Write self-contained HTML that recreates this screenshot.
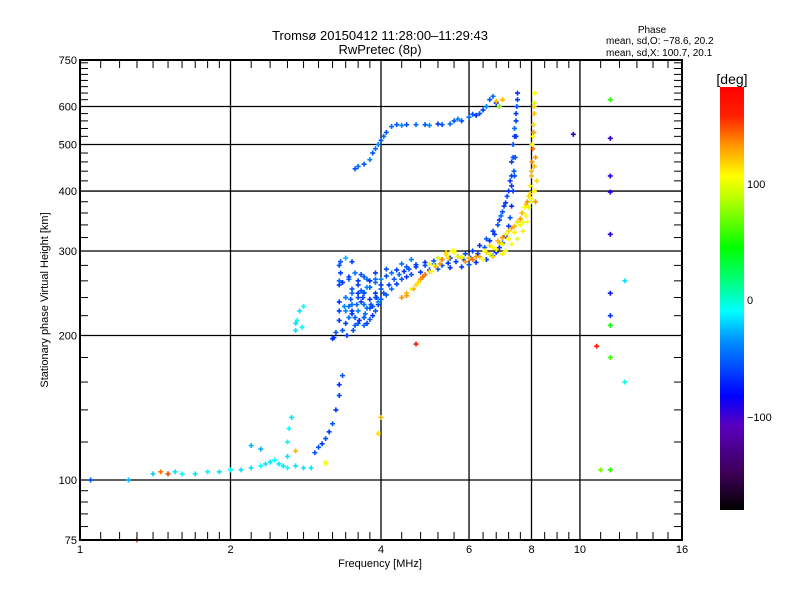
<!DOCTYPE html>
<html><head><meta charset="utf-8"><style>
body{margin:0;background:#fff;}
svg{display:block;font-family:"Liberation Sans",sans-serif;}
</style></head><body>
<svg id="chart" width="800" height="600">
<rect width="800" height="600" fill="#fff"/>
<g id="grid"></g>
<g id="marks"></g>
<rect x="80" y="60" width="602" height="480" fill="none" stroke="#000" stroke-width="2"/>
<g id="axes"></g>
<text x="380" y="40" text-anchor="middle" font-size="13">Tromsø 20150412 11:28:00–11:29:43</text>
<text x="380" y="54" text-anchor="middle" font-size="13">RwPretec (8p)</text>
<text x="652" y="33" text-anchor="middle" font-size="10">Phase</text>
<text x="606" y="44" font-size="10">mean, sd,O: −78.6, 20.2</text>
<text x="606" y="56" font-size="10">mean, sd,X: 100.7, 20.1</text>
<text x="380" y="567" text-anchor="middle" font-size="11">Frequency [MHz]</text>
<text transform="translate(48,300) rotate(-90)" text-anchor="middle" font-size="11">Stationary phase Virtual Height [km]</text>
<defs><linearGradient id="cb" x1="0" y1="1" x2="0" y2="0">
<stop offset="0" stop-color="#000"/><stop offset="0.08" stop-color="#3a0050"/><stop offset="0.2" stop-color="#5a00c0"/><stop offset="0.27" stop-color="#0000ff"/><stop offset="0.4" stop-color="#0090ff"/><stop offset="0.47" stop-color="#00ffff"/><stop offset="0.53" stop-color="#00ff90"/><stop offset="0.62" stop-color="#00ff00"/><stop offset="0.73" stop-color="#b0ff00"/><stop offset="0.79" stop-color="#ffff00"/><stop offset="0.86" stop-color="#ff9900"/><stop offset="0.93" stop-color="#ff2200"/><stop offset="1" stop-color="#ff0000"/></linearGradient></defs>
<rect x="720" y="87" width="24" height="423" fill="url(#cb)"/>
<text x="732" y="84" text-anchor="middle" font-size="14">[deg]</text>
<text x="747" y="188" font-size="11">100</text>
<text x="747" y="304" font-size="11">0</text>
<text x="747" y="421" font-size="11">−100</text>
</svg>
<script>
const oFreq=[1.4,1.5,1.55,1.6,1.7,1.8,1.9,2.0,2.1,2.2,2.3,2.35,2.4,2.45,2.5,2.55,2.6,2.7,2.8,2.9,2.6,2.6,2.62,2.65,2.2,2.3,
2.95,3.0,3.05,3.1,3.15,3.2,3.25,3.3,3.3,3.35,2.7,2.72,2.75,2.8,2.7,2.78,
3.2,3.22,3.25,3.3,3.3,3.3,3.3,3.32,3.35,3.4,3.45,3.5,3.55,3.6,3.7,3.75,3.8,3.85,3.9,3.95,4.0,4.1,4.2,4.3,4.4,4.5,4.6,4.8,5.0,5.2,5.5,5.8,6.0,6.2,6.5,6.7,6.8,6.9,7.0,7.1,7.2,7.25,7.3,7.35,7.4,7.42,7.45,7.45,7.48,7.5,7.5,
3.4,3.5,3.6,3.7,3.8,3.9,4.0,4.1,4.2,4.3,4.5,4.7,4.9,5.1,5.3,5.5,5.7,5.9,6.1,6.3,6.5,6.7,6.9,7.0,7.1,7.2,7.3,7.35,7.4,
3.3,3.4,3.5,3.6,3.7,3.8,3.9,4.0,3.45,3.55,3.65,3.75,3.6,3.7,3.5,3.4,
3.55,3.6,3.7,3.8,3.85,3.9,3.95,4.0,4.05,4.1,4.2,4.3,4.4,4.5,4.7,4.9,5.0,5.2,5.3,5.5,5.6,5.7,5.8,6.0,6.1,6.2,6.3,6.4,6.5,6.6,6.7,6.8,
11.5,11.5,11.5,11.5,11.5,11.5,12.3,12.3,9.7,1.05,1.25];
const oHeight=[103,103,104,103,103,104,104,105,105,106,107,108,109,110,108,107,106,107,106,106,112,120,128,135,118,116,
114,117,119,122,126,131,140,150,158,165,205,215,225,230,212,208,
197,198,203,215,235,255,280,270,258,240,230,222,218,212,210,212,216,220,225,232,238,243,250,256,262,265,268,271,274,275,277,278,281,284,288,293,298,305,312,322,338,352,372,400,430,470,520,560,600,620,640,
225,232,240,246,252,258,262,266,270,274,278,281,284,286,288,290,292,296,300,308,318,330,348,362,378,400,430,470,520,
225,240,250,245,232,228,240,255,262,270,248,252,260,265,285,290,
445,450,455,465,480,490,500,510,520,530,545,550,548,550,550,550,548,552,550,552,560,565,560,570,578,575,580,590,600,620,630,610,
515,430,398,325,245,220,260,160,525,100,100];
const oPhase=[-55,-50,-50,-45,-50,-45,-50,-45,-50,-50,-45,-50,-50,-45,-50,-50,-45,-50,-50,-50,-50,-45,-45,-50,-60,-60,
-80,-80,-85,-80,-85,-80,-90,-85,-90,-80,-50,-45,-50,-45,-50,-45,
-90,-90,-80,-85,-90,-85,-80,-85,-90,-80,-75,-85,-80,-80,-75,-85,-80,-90,-80,-85,-80,-80,-75,-85,-80,-90,-80,-85,-85,-80,-90,-85,-80,-95,-85,-80,-90,-85,-80,-90,-85,-80,-90,-85,-80,-85,-90,-85,-80,-85,-90,
-70,-75,-80,-70,-80,-75,-70,-80,-75,-85,-80,-85,-90,-80,-85,-95,-85,-80,-85,-90,-80,-85,-90,-80,-85,-90,-85,-80,-85,
-85,-70,-80,-90,-75,-80,-70,-85,-80,-75,-80,-70,-85,-80,-85,-60,
-80,-75,-80,-70,-80,-75,-70,-80,-75,-80,-75,-80,-70,-80,-75,-80,-70,-85,-80,-75,-80,-70,-80,-75,-80,-90,-80,-85,-70,-80,-75,-95,
-130,-120,-120,-125,-100,-90,-50,-40,-130,-80,-60];
const oFreqB=[3.35,3.4,3.45,3.5,3.55,3.6,3.65,3.7,3.75,3.8,3.85,3.9,3.95,4.0,3.5,3.6,3.7,3.8,3.9,4.05,4.15,4.25,4.35,4.45,4.55,4.7,4.9,5.1,5.3,5.45,5.65,5.85,6.05,6.25,6.45,6.6,6.75,6.85,6.95,7.05,7.15,7.25,7.3,7.35,7.4,7.45,7.38,7.3,
3.3,3.32,3.45,3.55,3.65,3.75,3.9,4.1,4.4,4.6,3.42,3.52,3.62,3.72,3.82,3.92,3.38,3.48,3.58,3.68];
const oHeightB=[205,212,218,225,210,225,235,218,228,238,230,245,235,250,245,255,245,260,262,245,255,262,268,272,275,278,280,282,280,283,285,288,290,296,305,315,325,340,355,372,390,420,460,500,540,580,440,410,
260,285,265,270,268,262,270,275,282,288,200,205,215,222,232,240,230,238,232,240];
const oPhaseB=[-80,-85,-75,-90,-80,-70,-85,-80,-75,-90,-80,-85,-70,-80,-75,-85,-80,-90,-75,-80,-85,-80,-75,-90,-80,-85,-80,-75,-80,-90,-85,-80,-75,-85,-80,-90,-85,-80,-75,-85,-80,-90,-85,-80,-75,-85,-80,-90,
-75,-80,-85,-70,-80,-75,-85,-80,-75,-70,-85,-80,-90,-75,-80,-85,-70,-80,-75,-85];
const xFreq=[1.45,1.5,2.7,3.1,3.95,4.0,4.4,4.5,4.6,4.7,4.8,4.9,5.0,5.1,5.3,5.4,5.6,5.8,5.9,6.1,6.3,6.5,6.7,6.9,7.0,7.2,7.4,7.6,7.7,7.8,7.9,7.95,8.0,8.02,8.05,8.05,8.08,8.1,8.1,8.12,8.15,8.1,
5.0,5.2,5.4,5.6,5.8,6.4,6.6,6.8,7.0,7.2,7.4,7.6,7.8,7.9,8.0,8.1,8.2,8.0,7.5,7.7,
6.9,7.0,11.5,11.5,11.5,11.5,10.8,11.0,6.8,3.1,1.3,4.7,
4.5,4.65,4.75,4.85,5.05,5.15,5.25,5.45,5.55,5.7,6.0,6.2,6.45,6.6,6.85,7.1,7.3,7.5,7.65,7.75,7.85,7.95,8.0,8.02,8.08,8.1,7.1,7.3,7.5,7.7,7.85,8.1,8.15,6.7,7.0];
const xHeight=[104,103,115,108,125,135,240,245,250,255,262,268,272,280,288,295,298,290,285,288,292,298,305,312,320,330,338,350,360,375,390,410,430,460,490,520,550,580,610,640,470,400,
282,290,298,300,292,288,295,302,310,318,328,340,355,370,385,400,420,380,345,345,
600,620,620,210,180,105,190,105,615,109,75,192,
242,250,258,265,272,278,282,290,300,292,290,292,300,308,315,325,335,345,360,370,380,395,440,500,530,600,300,310,318,330,345,450,380,292,296];
const xPhase=[140,150,120,100,110,120,130,120,100,110,130,140,120,100,130,110,100,120,130,140,120,110,100,120,130,110,120,130,100,120,110,100,120,130,140,100,110,120,90,100,130,120,
100,90,110,100,95,100,90,100,95,100,105,95,100,90,95,100,110,90,100,95,
60,120,40,30,45,40,170,60,120,100,150,170,
130,120,110,140,100,120,130,110,100,95,120,130,100,110,120,100,130,110,120,100,130,110,120,100,130,110,95,100,90,105,100,120,130,110,100];
const X0=80,Y0=540,OCT=150.5,DEC=480;
function xs(f){return X0+Math.log2(f)*OCT;}
function ys(h){return Y0-Math.log10(h/75)*DEC;}
const stops=[[-180,[0,0,0]],[-150,[80,0,130]],[-115,[20,0,255]],[-85,[0,60,255]],[-45,[0,255,255]],[0,[0,255,140]],[30,[0,255,0]],[80,[190,255,0]],[100,[255,255,0]],[130,[255,150,0]],[160,[255,40,0]],[180,[255,0,0]]];
function col(p){for(let i=1;i<stops.length;i++){if(p<=stops[i][0]){const a=stops[i-1],b=stops[i],t=(p-a[0])/(b[0]-a[0]);const c=a[1].map((v,k)=>Math.round(v+(b[1][k]-v)*t));return `rgb(${c})`;}}return 'rgb(255,0,0)';}
const NS='http://www.w3.org/2000/svg';
function mk(tag,attrs,parent){const e=document.createElementNS(NS,tag);for(const k in attrs)e.setAttribute(k,attrs[k]);parent.appendChild(e);return e;}
const grid=document.getElementById('grid'),axes=document.getElementById('axes'),marks=document.getElementById('marks');
const xGrid=[2,4,6,8,10],yGrid=[100,200,300,400,500,600];
const xLabels=[1,2,4,6,8,10,16],yLabels=[75,100,200,300,400,500,600,750];
xGrid.forEach(f=>{const l=mk('line',{x1:xs(f),x2:xs(f),y1:60,y2:540,stroke:'#000','stroke-width':1.3},grid);

});
yGrid.forEach(h=>{const l=mk('line',{x1:80,x2:682,y1:ys(h),y2:ys(h),stroke:'#000','stroke-width':1.3},grid);

});
const xMinor=[1.1,1.2,1.3,1.4,1.5,1.6,1.7,1.8,1.9,2.2,2.4,2.6,2.8,3,3.2,3.4,3.6,3.8,4.4,4.8,5.2,5.6,6.4,6.8,7.2,7.6,8.5,9,9.5,11,12,13,14,15];
xMinor.forEach(f=>{[[540,532],[60,68]].forEach(p=>{const l=mk('line',{x1:xs(f),x2:xs(f),y1:p[0],y2:p[1],stroke:'#000','stroke-width':1},axes);

});});
const yMinor=[80,85,90,95,120,140,160,180,220,240,260,280,320,340,360,380,420,440,460,480,520,540,560,580,620,640,660,680,700,720,740];
yMinor.forEach(h=>{[[80,88],[682,674]].forEach(p=>{const l=mk('line',{x1:p[0],x2:p[1],y1:ys(h),y2:ys(h),stroke:'#000','stroke-width':1},axes);

});});
xLabels.forEach(f=>{const t=mk('text',{x:xs(f),y:553,'text-anchor':'middle','font-size':11},axes);t.textContent=f;

});
yLabels.forEach(h=>{const t=mk('text',{x:77,y:ys(h)+4,'text-anchor':'end','font-size':11},axes);t.textContent=h;

});
function plot(F,H,P,name){for(let i=0;i<F.length;i++){const x=xs(F[i]),y=ys(H[i]);
const p=mk('path',{d:`M${x-2.5},${y}h5M${x},${y-2.5}v5`,stroke:col(P[i]),'stroke-width':1.6},marks);

}}
plot(oFreq,oHeight,oPhase,'o-mode-point');
plot(oFreqB,oHeightB,oPhaseB,'o-mode-point');
plot(xFreq,xHeight,xPhase,'x-mode-point');
</script>
</body></html>
